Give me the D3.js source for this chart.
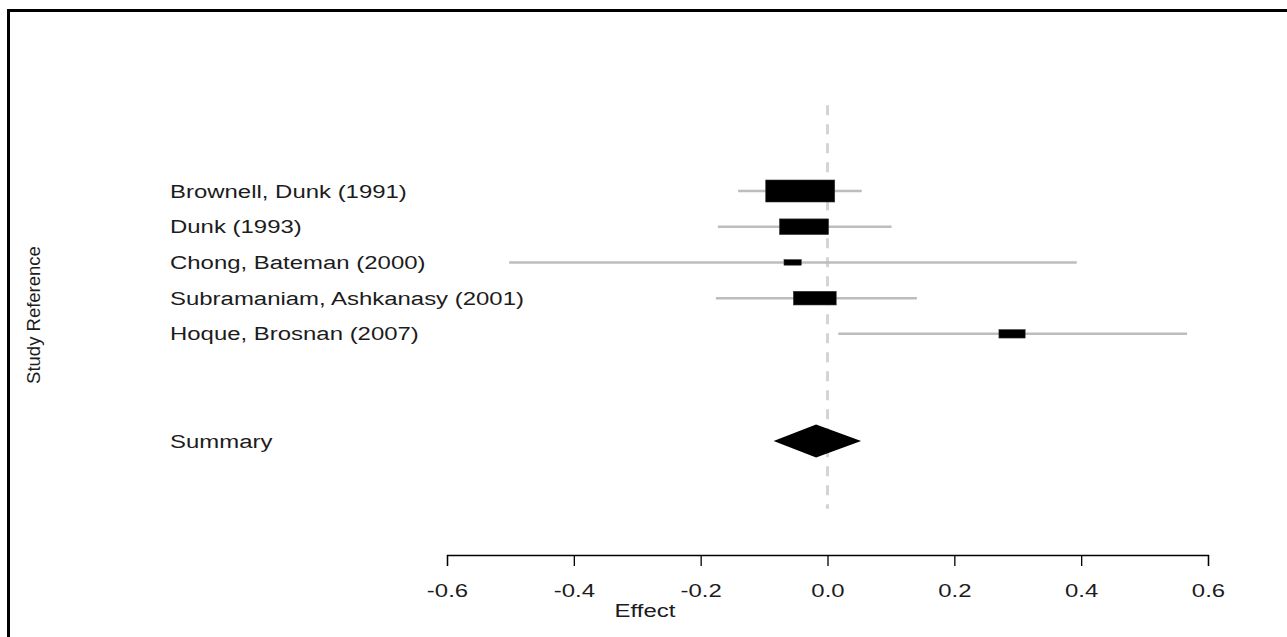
<!DOCTYPE html>
<html>
<head>
<meta charset="utf-8">
<script src="https://cdn.jsdelivr.net/npm/d3@7"></script>
<style>
  html, body { margin: 0; padding: 0; background: #fff; }
  svg { display: block; }
  text { font-family: "Liberation Sans", Arial, sans-serif; fill: #1c1c1c; }
</style>
</head>
<body>
<svg id="chart" width="1287" height="637"></svg>
<script>
// ---- data ----
const studies = [
  "Brownell, Dunk (1991)",
  "Dunk (1993)",
  "Chong, Bateman (2000)",
  "Subramaniam, Ashkanasy (2001)",
  "Hoque, Brosnan (2007)"
];
const effects = [-0.043, -0.037, -0.055, -0.020, 0.291];
const lowerCI = [-0.141, -0.173, -0.502, -0.176, 0.017];
const upperCI = [0.054, 0.101, 0.393, 0.141, 0.567];
const weights = [1.00, 0.71, 0.25, 0.62, 0.38];   // relative box size
const summaryLabel = "Summary";
const summaryEffect = -0.018;
const summaryLower = -0.085;
const summaryUpper = 0.053;
const xTicks = [-0.6, -0.4, -0.2, 0.0, 0.2, 0.4, 0.6];
const xTickLabels = ["-0.6", "-0.4", "-0.2", "0.0", "0.2", "0.4", "0.6"];
const xLabel = "Effect";
const yLabel = "Study Reference";

// ---- layout ----
const svg = d3.select("#chart");
const W = 1287, H = 637;
const TX = 1.26; // horizontal text stretch seen in the reference

// frame
svg.append("path")
  .attr("d", `M8.5,${H + 5} L8.5,10.5 L${W + 5},10.5`)
  .attr("fill", "none").attr("stroke", "#000").attr("stroke-width", 3);

const x = d3.scaleLinear().domain([-0.6, 0.6]).range([447, 1208]);
const rowIdx = studies.map((d, i) => i);
const summaryRow = studies.length + 2;
const y = d3.scaleLinear().domain([0, summaryRow]).range([191, 441]);
const bw = d3.scaleLinear().domain([0, 1]).range([0, 69]);
const bh = d3.scaleLinear().domain([0, 1]).range([0, 22]);

// reference line at 0
svg.append("line")
  .attr("x1", x(0)).attr("x2", x(0))
  .attr("y1", y(-2.4)).attr("y2", y(8.9))
  .attr("stroke", "#d4d4d4").attr("stroke-width", 3)
  .attr("stroke-dasharray", "10,9");

// CI lines
svg.append("g").selectAll("line").data(rowIdx).join("line")
  .attr("x1", i => x(lowerCI[i])).attr("x2", i => x(upperCI[i]))
  .attr("y1", i => y(i)).attr("y2", i => y(i))
  .attr("stroke", "#bdbdbd").attr("stroke-width", 2.5);

// boxes
svg.append("g").selectAll("rect").data(rowIdx).join("rect")
  .attr("x", i => x(effects[i]) - bw(weights[i]) / 2)
  .attr("y", i => y(i) - bh(weights[i]) / 2)
  .attr("width", i => bw(weights[i]))
  .attr("height", i => bh(weights[i]))
  .attr("fill", "#000").attr("stroke", "#333").attr("stroke-width", 0.6);

// summary diamond
const sy = y(summaryRow), dh = 16.5;
svg.append("path")
  .attr("d", `M${x(summaryLower)},${sy} L${x(summaryEffect)},${sy - dh} L${x(summaryUpper)},${sy} L${x(summaryEffect)},${sy + dh} Z`)
  .attr("fill", "#000");

// study labels
function stretchedText(g, tx, ty, str, anchor) {
  return g.append("text")
    .attr("transform", `translate(${tx},${ty}) scale(${TX},1)`)
    .attr("text-anchor", anchor || "start")
    .attr("dominant-baseline", "central")
    .style("font-size", "19px")
    .text(str);
}
const lab = svg.append("g");
studies.forEach((s, i) => stretchedText(lab, 170, y(i), s));
stretchedText(lab, 170, sy, summaryLabel);

// x axis
const axisY = 555;
const ax = svg.append("g").attr("transform", `translate(0,${axisY})`)
  .call(d3.axisBottom(x).tickValues(xTicks)
    .tickFormat((d, i) => xTickLabels[i]).tickSize(11).tickPadding(18));
ax.select(".domain").attr("stroke", "#000").attr("stroke-width", 1.3);
ax.selectAll(".tick line").attr("stroke", "#000").attr("stroke-width", 1.3);
ax.selectAll(".tick text")
  .style("font-size", "19px")
  .style("font-family", "'Liberation Sans', Arial, sans-serif")
  .attr("fill", "#1c1c1c")
  .attr("transform", `scale(${TX},1)`);

// axis titles
svg.append("text")
  .attr("transform", `translate(645,610) scale(${TX},1)`)
  .attr("text-anchor", "middle").attr("dominant-baseline", "central")
  .style("font-size", "19px").text(xLabel);

svg.append("text")
  .attr("transform", `translate(33,315) rotate(-90)`)
  .attr("text-anchor", "middle").attr("dominant-baseline", "central")
  .style("font-size", "18.5px").text(yLabel);
</script>
</body>
</html>
